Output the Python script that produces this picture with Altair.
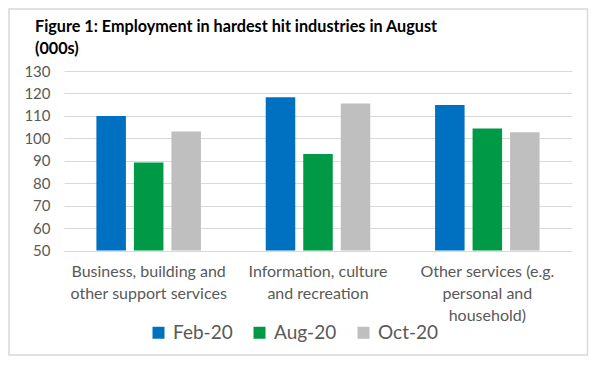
import altair as alt
import pandas as pd

categories = [
    "Business, building and|other support services",
    "Information, culture|and recreation",
    "Other services (e.g.|personal and|household)",
]
series = ["Feb-20", "Aug-20", "Oct-20"]
feb = [110.0, 118.3, 114.8]
aug = [89.2, 93.0, 104.4]
oct_ = [103.0, 115.5, 102.7]
colors = ["#0070C0", "#009A46", "#BFBFBF"]
y_ticks = [50, 60, 70, 80, 90, 100, 110, 120, 130]

rows = []
for s, vals in zip(series, [feb, aug, oct_]):
    for c, v in zip(categories, vals):
        rows.append({"category": c, "series": s, "value": v})
df = pd.DataFrame(rows)

bars = alt.Chart(df).mark_bar().encode(
    x=alt.X(
        "category:N",
        sort=categories,
        scale=alt.Scale(paddingInner=0, paddingOuter=0),
        axis=alt.Axis(
            title=None,
            labelExpr="split(datum.label, '|')",
            labelAngle=0,
            labelFontSize=16,
            labelColor="#595959",
            labelFont="Lato",
            labelLimit=300,
            labelLineHeight=22,
            labelPadding=13,
            labelBaseline="top",
            ticks=False,
            domain=False,
        ),
    ),
    xOffset=alt.XOffset(
        "series:N", sort=series,
        scale=alt.Scale(paddingInner=0.213, paddingOuter=0.864),
    ),
    y=alt.Y(
        "value:Q",
        scale=alt.Scale(domain=[50, 130], nice=False, zero=False),
        axis=alt.Axis(
            title=None,
            values=y_ticks,
            labelFontSize=15,
            labelColor="#595959",
            labelFont="Lato",
            labelPadding=14,
            ticks=False,
            domain=False,
            grid=True,
            gridColor="#D9D9D9",
            gridWidth=1,
        ),
    ),
    y2=alt.datum(50),
    color=alt.Color(
        "series:N",
        sort=series,
        scale=alt.Scale(domain=series, range=colors),
        legend=alt.Legend(
            title=None,
            orient="none",
            direction="horizontal",
            legendX=85,
            legendY=252,
            symbolType="square",
            symbolSize=144,
            symbolStrokeWidth=0,
            labelFontSize=19,
            labelFont="Lato",
            labelColor="#595959",
            labelOffset=5,
            columnPadding=17,
        ),
    ),
)

border = alt.Chart(pd.DataFrame({"a": [0]})).mark_rect(
    fill=None, stroke="#D9D9D9", strokeWidth=1.5
).encode(
    x=alt.value(-55), x2=alt.value(523.5), y=alt.value(-62), y2=alt.value(284)
)

chart = alt.layer(border, bars).properties(
    width=508,
    height=179.5,
    title=alt.Title(
        ["Figure 1: Employment in hardest hit industries in August", "(000s)"],
        anchor="start",
        frame="group",
        font="Lato",
        fontSize=16.2,
        fontWeight="bold",
        color="black",
        lineHeight=22,
        baseline="top",
        dx=-29,
        dy=57,
        offset=8,
    ),
    autosize=alt.AutoSizeParams(type="none"),
    padding={"left": 56, "top": 63, "right": 17, "bottom": 106},
).configure_view(stroke=None)

chart.save("out.html", embed_options={"renderer": "svg", "actions": False})
